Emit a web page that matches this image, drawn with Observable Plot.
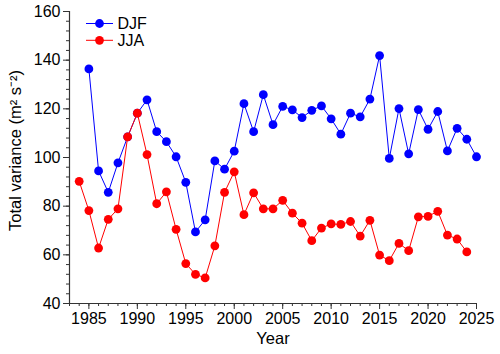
<!DOCTYPE html>
<html>
<head>
<meta charset="utf-8">
<script src="https://cdn.jsdelivr.net/npm/d3@7"></script>
<script src="https://cdn.jsdelivr.net/npm/@observablehq/plot@0.6"></script>
<style>
  html, body { margin: 0; padding: 0; background: #fff; }
  #chart svg { display: block; }
</style>
</head>
<body>
<div id="chart"></div>
<script>
const djfYears = d3.range(1985, 2026);
const djfValues = [136.4, 94.5, 85.7, 97.8, 108.5, 118.2, 123.7, 110.6, 106.5, 100.3,
  89.8, 69.4, 74.4, 98.6, 95.2, 102.6, 122.1, 110.6, 125.8, 113.5,
  121.0, 119.6, 116.4, 119.4, 121.2, 115.9, 109.6, 118.2, 116.7, 124.0,
  141.9, 99.6, 120.1, 101.5, 119.7, 111.6, 118.9, 102.7, 112.0, 107.5, 100.3];
const jjaYears = d3.range(1984, 2025);
const jjaValues = [90.2, 78.2, 62.8, 74.6, 78.9, 108.5, 118.2, 101.2, 81.0, 85.9,
  70.5, 56.4, 52.0, 50.5, 63.7, 85.7, 94.1, 76.5, 85.5, 78.9,
  78.9, 82.4, 77.1, 73.0, 65.8, 71.0, 72.7, 72.5, 73.7, 67.7,
  74.2, 59.9, 57.6, 64.7, 61.7, 75.6, 75.8, 77.9, 68.1, 66.5, 61.2];
const seriesNames = ["DJF", "JJA"];
const seriesColors = ["#0000ff", "#ff0000"];
const xMajorTicks = d3.range(1985, 2026, 5);
const xMinorTicks = d3.range(1983, 2026, 1);
const yMajorTicks = d3.range(40, 161, 20);
const yMinorTicks = d3.range(40, 161, 4);
const xLabel = "Year";
const yLabel = "Total variance (m\u00B2 s\u207B\u00B2)";

const djf = djfYears.map((y, i) => ({year: y, value: djfValues[i]}));
const jja = jjaYears.map((y, i) => ({year: y, value: jjaValues[i]}));

const font = "Liberation Sans, Arial, sans-serif";

const plot = Plot.plot({
  width: 500,
  height: 354,
  marginLeft: 69,
  marginRight: 24,
  marginTop: 11,
  marginBottom: 51,
  style: {fontFamily: font, fontSize: "16px", color: "#000", background: "#fff"},
  x: {domain: [1983, 2025]},
  y: {domain: [40, 160]},
  marks: [
    Plot.axisX({ticks: xMinorTicks, tickSize: 3, tickFormat: () => "", label: null, stroke: "#333"}),
    Plot.axisX({ticks: xMajorTicks, tickSize: 6, tickPadding: 3, tickFormat: d => String(d), label: null, fontSize: 16, stroke: "#333"}),
    Plot.axisY({ticks: yMinorTicks, tickSize: 3, tickFormat: () => "", label: null, stroke: "#333"}),
    Plot.axisY({ticks: yMajorTicks, tickSize: 6, tickPadding: 3, tickFormat: d => String(d), label: null, fontSize: 16, stroke: "#333"}),
    Plot.ruleY([40], {stroke: "#333", strokeWidth: 1.2}),
    Plot.ruleX([1983], {stroke: "#333", strokeWidth: 1.2}),
    Plot.line(djf, {x: "year", y: "value", stroke: seriesColors[0], strokeWidth: 1}),
    Plot.dot(djf, {x: "year", y: "value", r: 4.4, fill: seriesColors[0], stroke: "none"}),
    Plot.line(jja, {x: "year", y: "value", stroke: seriesColors[1], strokeWidth: 1}),
    Plot.dot(jja, {x: "year", y: "value", r: 4.4, fill: seriesColors[1], stroke: "none"}),
    Plot.text([xLabel], {frameAnchor: "bottom", dy: 40, fontSize: 16.5, fill: "#000"}),
    Plot.text([yLabel], {frameAnchor: "left", textAnchor: "middle", lineAnchor: "middle", rotate: -90, dx: -54, dy: -7, fontSize: 16.5, fill: "#000"})
  ]
});

// legend
const svg = d3.select(plot);
const leg = svg.append("g").attr("font-family", font).attr("font-size", 16).attr("text-anchor", "start");
seriesNames.forEach((name, i) => {
  const yy = 23.5 + i * 16.8;
  leg.append("line").attr("x1", 86).attr("x2", 113).attr("y1", yy).attr("y2", yy)
    .attr("stroke", seriesColors[i]).attr("stroke-width", 1);
  leg.append("circle").attr("cx", 99.5).attr("cy", yy).attr("r", 4.4).attr("fill", seriesColors[i]);
  leg.append("text").attr("x", 117.5).attr("y", yy).attr("dy", "0.36em").attr("fill", "#000")
    .attr("text-anchor", "start").text(name);
});

document.getElementById("chart").appendChild(plot);
</script>
</body>
</html>
